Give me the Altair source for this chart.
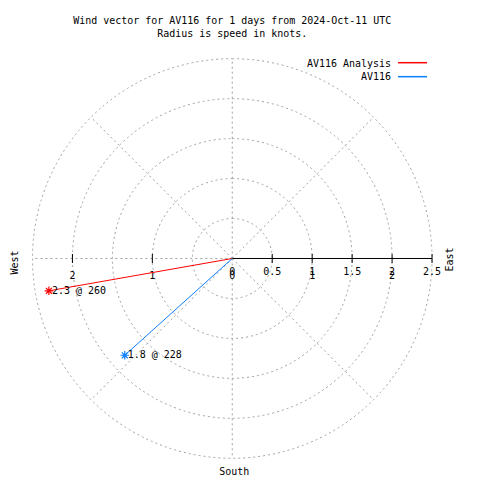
import altair as alt
import pandas as pd

# ---- data ----
series = ["AV116 Analysis", "AV116"]
speeds = [2.33, 1.81]          # knots (radius)
directions = [260, 228]        # degrees, compass bearing
point_labels = ["2.3 @ 260", "1.8 @ 228"]
colors = ["#ff0000", "#0a80ff"]

ring_radii = [0.5, 1.0, 1.5, 2.0, 2.5]
spoke_angles = [0, 45, 90, 135, 180, 225, 270, 315]
rmax = 2.5

tick_pos = [0.5, 1.0, 1.5, 2.0, 2.5, -1.0, -2.0]
label_pos_1 = [0, 0.5, 1, 1.5, 2, 2.5]
label_txt_1 = ["0", "0.5", "1", "1.5", "2", "2.5"]
label_pos_2 = [-2, -1, 0, 1, 2]
label_txt_2 = ["2", "1", "0", "1", "2"]

title_lines = ["Wind vector for AV116 for 1 days from 2024-Oct-11 UTC",
               "Radius is speed in knots."]

FONT = "DejaVu Sans Mono"
FS = 10
GRID = "#a0a0a0"

W = H = 400
PX_PER_UNIT = W / (2 * rmax)
xs = alt.Scale(domain=[-rmax, rmax], nice=False, zero=False)
ys = alt.Scale(domain=[-rmax, rmax], nice=False, zero=False)

vec = pd.DataFrame({"series": series, "speed": speeds, "dir": directions,
                    "label": point_labels, "color": colors})
vec_base = alt.Chart(vec).transform_calculate(
    px="datum.speed * sin(datum.dir * PI / 180)",
    py="datum.speed * cos(datum.dir * PI / 180)",
    ox="0", oy="0")

# grid rings (radius converted to pixels with the same factor as the x/y scales)
rings = alt.Chart(pd.DataFrame({"r": ring_radii})).transform_calculate(
    rpx=f"datum.r * {PX_PER_UNIT}"
).mark_arc(
    stroke=GRID, strokeWidth=1, strokeDash=[2, 3], fillOpacity=0, fill="white"
).encode(
    theta=alt.value(0), theta2=alt.value(6.3),
    radius=alt.Radius("rpx:Q", scale=None, stack=False),
)

# grid spokes
spokes = alt.Chart(pd.DataFrame({"a": spoke_angles})).transform_calculate(
    ex=f"{rmax} * sin(datum.a * PI / 180)",
    ey=f"{rmax} * cos(datum.a * PI / 180)",
    ox="0", oy="0"
).mark_rule(color=GRID, strokeWidth=1, strokeDash=[2, 3]).encode(
    x=alt.X("ox:Q", scale=xs, axis=None), y=alt.Y("oy:Q", scale=ys, axis=None),
    x2="ex:Q", y2="ey:Q")

# radial axis line
axis_line = alt.Chart(pd.DataFrame({"x0": [0], "x1": [rmax], "y0": [0]})).mark_rule(
    color="black", strokeWidth=1).encode(
    x=alt.X("x0:Q", scale=xs, axis=None), x2="x1:Q", y=alt.Y("y0:Q", scale=ys, axis=None))

ticks = alt.Chart(pd.DataFrame({"t": tick_pos, "y0": [0] * len(tick_pos)})).mark_tick(
    orient="vertical", size=9, thickness=1, color="black", opacity=1).encode(
    x=alt.X("t:Q", scale=xs, axis=None), y=alt.Y("y0:Q", scale=ys, axis=None))

labels1 = alt.Chart(pd.DataFrame({"p": label_pos_1, "txt": label_txt_1, "y0": 0})).mark_text(
    font=FONT, fontSize=FS, color="black", align="center", baseline="middle", dy=14).encode(
    x=alt.X("p:Q", scale=xs, axis=None), y=alt.Y("y0:Q", scale=ys, axis=None), text="txt:N")

labels2 = alt.Chart(pd.DataFrame({"p": label_pos_2, "txt": label_txt_2, "y0": 0})).mark_text(
    font=FONT, fontSize=FS, color="black", align="center", baseline="middle", dy=18).encode(
    x=alt.X("p:Q", scale=xs, axis=None), y=alt.Y("y0:Q", scale=ys, axis=None), text="txt:N")

cscale = alt.Scale(domain=series, range=colors)

vectors = vec_base.mark_rule(strokeWidth=1).encode(
    x=alt.X("ox:Q", scale=xs, axis=None), y=alt.Y("oy:Q", scale=ys, axis=None),
    x2="px:Q", y2="py:Q",
    color=alt.Color("series:N", scale=cscale, legend=None))

STAR = "M-1,0L1,0M0,-1L0,1M-0.7,-0.7L0.7,0.7M-0.7,0.7L0.7,-0.7"
stars = vec_base.mark_point(shape=STAR, filled=False, size=72, strokeWidth=1.2, opacity=1).encode(
    x=alt.X("px:Q", scale=xs, axis=None), y=alt.Y("py:Q", scale=ys, axis=None),
    color=alt.Color("series:N", scale=cscale, legend=None))

vlabels = vec_base.mark_text(font=FONT, fontSize=FS, color="black", align="left",
                             baseline="middle", dx=3).encode(
    x=alt.X("px:Q", scale=xs, axis=None), y=alt.Y("py:Q", scale=ys, axis=None),
    text="label:N")

# legend (gnuplot style: text left, line right)
leg = pd.DataFrame({"series": series, "row": [0, 1]})
leg_text = alt.Chart(leg).mark_text(font=FONT, fontSize=FS, color="black", align="right",
                                    baseline="middle").encode(
    x=alt.value(359),
    y=alt.Y("row:Q", scale=alt.Scale(domain=[0, 1], range=[5, 18]), axis=None),
    text="series:N")
leg_line = alt.Chart(leg).mark_rule(strokeWidth=1.5).encode(
    x=alt.value(366), x2=alt.value(395),
    y=alt.Y("row:Q", scale=alt.Scale(domain=[0, 1], range=[4, 18]), axis=None),
    color=alt.Color("series:N", scale=cscale, legend=None))

# title and compass labels
title = alt.Chart(pd.DataFrame({"t": title_lines, "i": [0, 1]})).mark_text(
    font=FONT, fontSize=FS, color="black", align="center", baseline="middle").encode(
    x=alt.value(W / 2),
    y=alt.Y("i:Q", scale=alt.Scale(domain=[0, 1], range=[-38, -25]), axis=None),
    text="t:N")

west = alt.Chart(pd.DataFrame({"t": ["West"]})).mark_text(
    font=FONT, fontSize=FS, color="black", angle=270, align="center", baseline="middle").encode(
    x=alt.value(-17), y=alt.value(204), text="t:N")
east = alt.Chart(pd.DataFrame({"t": ["East"]})).mark_text(
    font=FONT, fontSize=FS, color="black", angle=270, align="center", baseline="middle").encode(
    x=alt.value(418), y=alt.value(201), text="t:N")
south = alt.Chart(pd.DataFrame({"t": ["South"]})).mark_text(
    font=FONT, fontSize=FS, color="black", align="center", baseline="middle").encode(
    x=alt.value(202), y=alt.value(414), text="t:N")

chart = alt.layer(
    rings, spokes, axis_line, ticks, labels1, labels2, vectors, stars, vlabels,
    leg_text, leg_line, title, west, east, south
).resolve_scale(y="independent").properties(
    width=W, height=H,
    background="white",
    autosize=alt.AutoSizeParams(type="none"),
    padding={"left": 24.5, "top": 50.5, "right": 40, "bottom": 22},
).configure_view(stroke="transparent", strokeWidth=0)

chart.save("out.html", embed_options={"renderer": "svg", "actions": False})
